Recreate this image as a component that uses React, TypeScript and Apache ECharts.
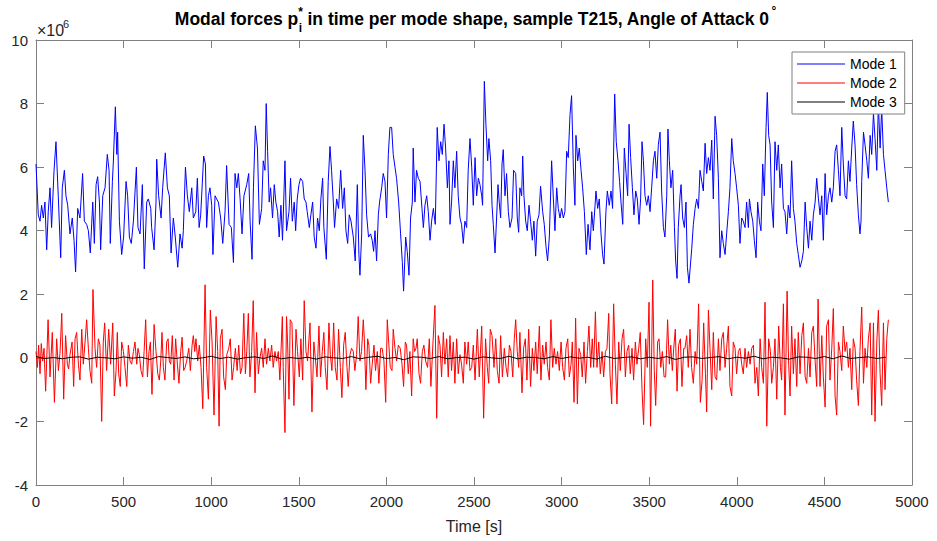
import React, { useEffect, useRef } from "react";
import * as echarts from "echarts";

const xTickMin = 0;
const xTickMax = 5000;
const xTickStep = 500;
const yTickMin = -4;
const yTickMax = 10;
const yTickStep = 2;
const legendNames = ["Mode 1", "Mode 2", "Mode 3"];

// Mode 1 [time s, force x1e6]
const mode1: [number, number][] = [
  [0,6.1],[13,4.5],[23,4.3],[32,4.8],[42,4.4],[51,4.9],[61,3.4],[70,4.6],[80,5.35],[89,4.1],[103,5.9],[114,6.8],[127,5.1],[137,3.7],[141,3.15],[150,5.35],[162,5.9],[171,5.1],[181,4.8],[194,3.9],[207,4.4],[217,3.7],[226,2.7],[238,4.7],[251,4.4],[266,5.8],[276,4.3],[289,4.2],[299,4.0],[310,3.3],[324,4.9],[333,3.6],[343,5.45],[352,5.7],[362,4.9],[369,3.4],[381,5.1],[394,5.35],[407,6.4],[417,5.9],[424,3.6],[436,5.55],[441,6.1],[453,7.9],[461,6.4],[466,7.1],[476,4.3],[489,3.25],[500,3.8],[514,5.55],[523,5.1],[533,3.8],[544,3.6],[556,4.3],[573,6.0],[582,4.1],[594,3.9],[607,5.45],[618,2.8],[632,4.9],[641,5.0],[655,4.7],[660,4.1],[674,3.4],[685,4.9],[689,6.25],[700,5.1],[714,4.4],[723,5.35],[738,6.45],[750,5.35],[761,5.1],[771,3.3],[784,4.4],[795,3.8],[809,2.85],[822,3.9],[834,3.45],[841,4.0],[853,6.0],[864,5.1],[875,4.6],[889,5.35],[898,4.4],[912,4.6],[921,5.65],[931,4.1],[940,4.5],[957,6.35],[967,6.1],[974,4.1],[984,5.1],[993,5.35],[1003,4.8],[1010,3.25],[1022,5.1],[1031,5.0],[1041,4.9],[1054,4.4],[1066,3.6],[1079,4.6],[1088,6.05],[1102,4.2],[1115,4.1],[1127,3.0],[1136,5.8],[1146,5.35],[1155,5.8],[1165,5.0],[1176,3.9],[1187,5.1],[1203,5.45],[1214,5.8],[1222,4.3],[1233,3.1],[1241,5.35],[1252,7.3],[1264,6.6],[1275,4.2],
  [1288,4.7],[1297,6.2],[1307,5.9],[1314,8.0],[1322,6.5],[1331,4.9],[1339,5.35],[1350,4.4],[1360,5.45],[1369,4.9],[1379,4.6],[1388,3.8],[1398,4.8],[1407,3.7],[1421,6.2],[1430,4.0],[1444,4.6],[1453,5.65],[1463,4.3],[1474,4.9],[1482,4.0],[1491,5.0],[1501,5.45],[1510,5.65],[1522,5.55],[1531,5.0],[1541,4.9],[1548,4.6],[1560,4.1],[1569,4.5],[1579,4.9],[1588,3.8],[1598,3.45],[1607,4.4],[1617,4.0],[1626,5.0],[1636,5.65],[1643,4.1],[1657,3.1],[1668,5.55],[1678,6.65],[1687,5.9],[1697,4.9],[1704,4.1],[1716,5.0],[1727,4.7],[1739,5.9],[1750,4.7],[1760,5.35],[1769,4.0],[1779,3.6],[1788,4.5],[1798,4.3],[1811,3.8],[1822,3.05],[1834,5.45],[1843,3.25],[1849,2.6],[1859,3.9],[1868,7.0],[1878,5.9],[1887,4.5],[1898,3.8],[1910,3.9],[1919,3.7],[1927,3.35],[1935,4.0],[1944,3.05],[1954,4.5],[1961,4.9],[1973,5.35],[1982,5.8],[1992,5.55],[2001,4.4],[2011,6.4],[2020,7.25],[2030,7.25],[2039,6.4],[2049,6.0],[2058,5.65],[2070,4.9],[2081,3.9],[2091,3.0],[2098,2.1],[2110,3.8],[2119,3.35],[2129,2.6],[2138,4.4],[2148,4.9],[2153,6.6],[2163,4.9],[2172,5.9],[2182,5.65],[2192,5.55],[2203,4.7],[2211,4.1],[2220,4.8],[2230,5.1],[2239,4.6],[2249,3.7],[2258,4.3],[2268,4.7],[2279,4.2],[2290,7.25],[2300,6.2],[2310,6.8],[2319,6.4],[2329,7.35],[2338,6.6],[2348,5.35],[2357,6.2],[2363,4.2],[2372,4.9],[2382,6.2],[2391,5.35],[2401,6.5],[2410,5.1],[2420,4.4],[2429,4.2],[2439,3.6],[2448,4.3],[2458,4.1],[2467,5.9],[2477,6.9],
  [2487,6.0],[2496,4.8],[2506,6.3],[2515,5.1],[2525,5.65],[2534,5.45],[2544,5.1],[2549,4.8],[2559,8.7],[2568,7.35],[2578,6.2],[2585,6.9],[2595,6.2],[2603,4.8],[2610,4.2],[2620,3.3],[2629,4.4],[2637,5.45],[2644,4.9],[2652,4.4],[2660,6.1],[2667,6.55],[2677,5.1],[2686,5.8],[2696,4.6],[2705,4.1],[2717,4.4],[2726,5.9],[2738,5.8],[2747,4.4],[2755,3.95],[2762,5.35],[2772,5.1],[2778,6.35],[2785,5.1],[2795,4.3],[2804,4.0],[2814,4.8],[2823,4.3],[2833,3.7],[2842,4.3],[2852,3.2],[2861,4.3],[2871,4.5],[2880,5.4],[2892,4.6],[2901,4.2],[2911,3.5],[2920,3.05],[2930,3.8],[2943,6.2],[2953,5.0],[2962,4.0],[2972,5.35],[2981,4.7],[2991,4.4],[3000,4.7],[3010,4.4],[3019,4.6],[3029,6.5],[3038,6.3],[3048,7.65],[3057,8.25],[3067,6.0],[3076,4.8],[3082,7.0],[3092,6.2],[3101,6.6],[3111,5.9],[3120,5.35],[3130,4.6],[3141,3.25],[3151,4.2],[3162,3.4],[3172,4.6],[3181,4.0],[3191,4.8],[3196,5.25],[3206,4.7],[3215,5.0],[3225,3.9],[3234,3.25],[3242,2.95],[3253,4.6],[3261,5.25],[3272,4.8],[3282,5.25],[3291,4.7],[3303,8.3],[3312,6.8],[3322,6.2],[3331,5.55],[3339,4.9],[3349,4.2],[3358,6.6],[3368,5.8],[3377,5.1],[3385,7.35],[3394,6.3],[3404,5.35],[3413,4.5],[3423,5.25],[3432,5.0],[3442,4.2],[3451,5.0],[3459,6.8],[3467,6.2],[3476,5.1],[3486,4.8],[3495,5.1],[3505,4.6],[3514,5.35],[3524,6.2],[3533,6.5],[3543,5.65],[3552,6.7],[3562,7.1],[3571,5.25],[3581,4.1],[3590,3.8],[3600,5.1],[3607,7.2],[3615,6.2],[3624,5.35],[3634,5.9],[3644,4.1],[3651,3.05],[3659,2.5],[3666,4.1],[3676,5.1],[3682,5.45],[3691,4.4],[3701,4.1],[3710,4.9],[3718,2.85],[3727,2.35],
  [3743,3.45],[3752,4.2],[3762,4.7],[3771,5.0],[3781,4.7],[3790,5.9],[3800,5.55],[3809,5.25],[3819,6.75],[3828,5.8],[3838,6.3],[3847,5.9],[3857,6.85],[3866,5.0],[3876,7.6],[3885,7.0],[3895,5.65],[3904,3.15],[3914,4.0],[3923,3.6],[3933,3.25],[3942,3.9],[3952,4.6],[3961,5.35],[3971,6.9],[3980,6.2],[3990,5.8],[3999,5.35],[4009,4.8],[4018,3.6],[4028,4.4],[4037,4.3],[4047,4.1],[4056,4.9],[4066,4.1],[4072,5.0],[4081,4.6],[4091,4.3],[4100,3.7],[4110,3.15],[4119,4.9],[4129,4.3],[4138,4.0],[4148,6.1],[4157,5.1],[4167,7.25],[4174,8.35],[4182,7.0],[4190,6.7],[4199,4.9],[4209,4.1],[4218,6.8],[4228,5.9],[4237,6.7],[4247,5.35],[4256,6.1],[4266,4.7],[4275,4.6],[4285,3.9],[4294,4.8],[4304,4.4],[4313,6.2],[4323,4.7],[4332,4.3],[4342,3.6],[4351,3.25],[4361,2.85],[4371,3.05],[4380,3.35],[4390,4.9],[4399,4.1],[4409,3.45],[4418,4.3],[4428,3.7],[4437,4.5],[4447,4.9],[4456,5.65],[4466,5.0],[4475,4.5],[4485,5.1],[4494,3.7],[4504,5.8],[4513,4.5],[4523,5.1],[4532,5.35],[4542,4.9],[4551,5.35],[4561,6.5],[4570,6.7],[4580,5.9],[4589,5.1],[4599,7.25],[4608,6.1],[4618,5.1],[4627,5.0],[4637,6.2],[4646,5.55],[4656,6.6],[4665,7.45],[4675,6.7],[4684,5.45],[4694,4.5],[4703,3.9],[4709,4.3],[4713,5.55],[4723,7.1],[4732,6.7],[4742,6.2],[4751,5.65],[4761,7.0],[4770,6.4],[4780,7.7],[4789,6.9],[4799,5.9],[4808,8.0],[4818,6.6],[4827,7.85],[4837,6.4],[4846,5.9],[4856,5.35],[4865,4.9]
];

// Mode 2 [time s, force x1e6]
const mode2: [number, number][] = [
  [0,0.2],[8,-0.3],[15,0.4],[23,-0.5],[30,0.45],[38,-0.1],[46,0.3],[55,-1.05],[69,1.2],[80,-0.6],[93,0.8],[105,-1.4],[118,0.6],[128,-0.4],[137,0.15],[147,1.4],[158,-1.3],[169,0.7],[179,-0.2],[186,-0.35],[194,0.1],[206,0.5],[215,-0.9],[223,0.6],[232,0.8],[242,-0.2],[251,-0.7],[261,0.9],[270,-0.2],[280,0.5],[289,1.2],[299,0.3],[308,-0.4],[318,-0.8],[325,2.15],[337,0.3],[346,-0.3],[356,0.6],[365,0.4],[375,-2.0],[384,0.5],[392,1.1],[403,-0.4],[415,0.9],[426,-0.2],[438,1.1],[447,-1.2],[457,-0.4],[464,0.8],[472,-0.5],[481,-0.9],[489,0.5],[499,0.2],[508,-0.3],[518,-0.9],[527,0.4],[537,-0.1],[546,-0.2],[556,0.2],[565,0.5],[575,-0.2],[582,0.3],[590,0.1],[599,-0.4],[609,-0.6],[617,0.2],[626,1.2],[636,-0.6],[645,0.2],[653,0.5],[662,-1.15],[674,1.05],[685,0.2],[695,-0.5],[704,-0.7],[712,-0.1],[719,0.8],[727,-0.3],[736,-0.7],[746,0.5],[754,0.6],[761,-0.1],[769,-0.2],[778,0.7],[788,-0.7],[797,0.6],[807,-0.2],[816,-0.8],[826,0.2],[834,0.65],[843,-0.4],[851,-0.3],[860,-0.1],[872,0.3],[881,-0.4],[891,0.4],[898,0.7],[906,0.2],[913,0.6],[923,-0.1],[932,0.4],[942,-0.3],[952,-1.6],[965,2.3],[974,-0.3],[984,-1.3],[995,1.5],[1005,0.5],[1016,-1.8],[1028,1.3],[1037,0.2],[1045,-2.15],[1052,0.6],[1062,0.9],[1071,-0.6],[1081,-1.0],[1089,0.1],[1100,0.3],[1109,0.6],[1119,-0.7],[1128,-0.3],[1138,0.3],[1148,-0.4],[1157,0.4],[1167,-0.5],[1176,-0.3],[1186,1.4],[1195,-0.5],[1203,0.2],[1212,1.4],
  [1221,-0.6],[1231,0.2],[1240,1.8],[1250,-1.1],[1259,0.8],[1269,-0.5],[1278,0.0],[1288,0.3],[1297,-0.3],[1307,0.6],[1316,-0.2],[1326,0.3],[1335,-0.1],[1345,0.4],[1354,-0.3],[1364,0.2],[1373,-0.1],[1383,0.2],[1392,-0.7],[1406,1.3],[1411,-0.3],[1421,-2.35],[1430,1.3],[1436,0.5],[1444,-1.3],[1451,1.2],[1461,1.1],[1472,-1.5],[1484,0.9],[1493,0.2],[1503,-0.6],[1512,0.6],[1522,-0.7],[1531,1.8],[1541,0.2],[1550,-0.1],[1564,1.1],[1575,-1.7],[1586,0.5],[1596,-0.1],[1604,-0.6],[1615,1.0],[1624,-0.6],[1634,0.2],[1643,0.8],[1651,-0.3],[1661,-1.0],[1672,1.1],[1680,0.1],[1689,-0.4],[1699,1.1],[1708,-0.3],[1718,-0.7],[1727,0.9],[1737,-0.3],[1746,-1.25],[1756,0.4],[1765,0.8],[1775,-0.3],[1782,-0.9],[1792,0.1],[1801,0.3],[1811,0.2],[1820,-0.4],[1830,0.1],[1839,1.3],[1849,-0.1],[1858,0.2],[1868,1.2],[1874,0.6],[1883,-1.0],[1893,0.6],[1900,0.4],[1910,-0.8],[1919,-0.2],[1929,0.4],[1938,-0.4],[1948,0.2],[1957,-0.8],[1967,0.3],[1976,0.3],[1986,-0.1],[1996,-1.4],[2005,1.2],[2013,0.5],[2022,-0.3],[2032,-0.4],[2039,0.9],[2049,0.3],[2058,-0.1],[2068,0.4],[2079,0.3],[2089,-0.2],[2098,-0.9],[2108,0.5],[2115,0.4],[2125,-0.5],[2134,0.2],[2144,-1.2],[2153,0.6],[2161,0.2],[2169,0.3],[2176,0.6],[2186,-0.5],[2195,-0.8],[2205,0.2],[2214,0.4],[2224,-0.1],[2235,-0.3],[2245,0.6],[2254,-0.9],[2266,0.5],[2277,1.65],[2287,-1.9],[2296,0.7],[2306,0.4],[2315,-0.6],[2325,0.8],[2334,-0.2],[2344,0.6],[2353,-0.6],[2363,0.7],[2372,-0.4],[2382,0.5],[2391,-0.8],[2401,0.6],[2410,-0.5],[2420,0.1],[2429,-0.2],[2439,-0.8],[2448,0.5],[2458,-0.2],[2467,0.5],
  [2477,-0.4],[2487,-0.3],[2496,0.4],[2506,-0.7],[2519,0.9],[2530,-0.6],[2544,1.0],[2555,-1.9],[2566,0.6],[2576,-0.3],[2584,-0.8],[2593,0.9],[2603,0.7],[2614,-0.3],[2624,0.6],[2633,-0.4],[2643,-0.8],[2652,0.7],[2662,-0.6],[2673,0.3],[2683,-0.3],[2692,-0.6],[2702,0.4],[2711,0.2],[2721,-0.6],[2730,0.6],[2738,1.2],[2747,0.2],[2755,-0.3],[2762,0.8],[2774,-1.1],[2783,0.3],[2793,0.6],[2802,-0.7],[2812,0.9],[2823,-0.9],[2833,0.3],[2842,-0.4],[2852,0.5],[2861,-0.5],[2873,1.0],[2882,-0.7],[2892,0.4],[2901,-0.2],[2911,0.5],[2920,-0.3],[2930,-0.7],[2939,1.2],[2949,-0.3],[2958,0.3],[2968,-0.2],[2977,0.2],[2987,-0.4],[2997,0.5],[3006,-0.3],[3016,-0.7],[3025,0.3],[3035,0.6],[3044,-0.6],[3054,-0.2],[3061,0.5],[3071,-1.4],[3080,1.25],[3090,-1.45],[3099,0.3],[3109,0.1],[3118,-0.6],[3128,0.5],[3137,-0.8],[3147,0.2],[3156,1.0],[3166,-0.3],[3175,0.6],[3183,-0.3],[3193,1.45],[3202,-0.3],[3212,0.5],[3221,-0.5],[3231,0.2],[3240,-0.6],[3250,0.2],[3259,0.3],[3269,1.4],[3276,-0.5],[3286,-1.45],[3297,1.7],[3307,-0.2],[3316,-1.45],[3326,0.5],[3335,-0.4],[3345,0.6],[3354,0.9],[3364,-0.6],[3373,0.2],[3383,0.4],[3392,-0.5],[3402,0.3],[3411,-0.7],[3421,0.5],[3430,-0.2],[3440,0.3],[3449,0.8],[3459,-1.0],[3468,-2.1],[3480,0.6],[3489,-0.3],[3499,1.75],[3508,-2.15],[3520,2.45],[3529,-0.4],[3537,-1.5],[3548,0.5],[3556,0.6],[3566,-0.3],[3575,0.2],[3585,-0.6],[3594,-0.6],[3605,1.2],[3615,-0.2],[3623,0.4],[3632,-0.4],[3640,0.3],[3649,0.9],[3659,-1.05],[3668,0.4],[3678,0.6],[3687,-0.9],[3697,0.3],[3704,0.3],[3714,0.7],[3723,-0.3],[3733,0.9],[3742,-0.3],[3752,-0.8],[3762,0.2],[3771,-0.2],
  [3782,1.7],[3792,-1.4],[3802,-0.7],[3811,1.1],[3821,-0.5],[3828,-1.7],[3838,1.5],[3847,0.3],[3857,-1.0],[3866,0.8],[3876,-0.6],[3885,-0.7],[3895,0.6],[3904,-0.4],[3914,0.6],[3923,0.8],[3933,-0.3],[3942,0.3],[3952,1.0],[3961,-0.9],[3971,-1.2],[3980,0.5],[3990,0.3],[3999,-0.5],[4009,0.2],[4018,0.3],[4028,-0.2],[4037,-0.5],[4047,0.3],[4056,-0.3],[4066,0.2],[4076,-0.2],[4085,0.3],[4095,0.4],[4104,-0.8],[4114,-0.3],[4123,-1.2],[4133,0.6],[4142,-0.3],[4152,-0.8],[4161,1.75],[4171,-2.15],[4182,0.6],[4192,0.2],[4199,-0.8],[4209,-0.3],[4218,0.6],[4228,-1.3],[4239,1.0],[4249,-0.3],[4256,-0.7],[4266,1.7],[4275,-1.8],[4287,2.1],[4296,-0.2],[4304,-1.2],[4313,1.0],[4323,-0.5],[4332,0.6],[4342,-0.9],[4351,0.8],[4361,-0.5],[4371,0.7],[4380,1.1],[4390,-0.6],[4399,-0.8],[4409,0.3],[4418,-0.6],[4428,0.8],[4437,1.0],[4447,-0.1],[4456,-0.9],[4464,1.85],[4475,-0.9],[4485,0.7],[4494,-0.6],[4504,-1.55],[4513,1.0],[4523,1.2],[4532,-0.7],[4542,0.3],[4551,1.55],[4561,-1.2],[4570,-1.8],[4580,0.5],[4589,0.2],[4599,-0.4],[4608,1.0],[4618,0.2],[4627,0.5],[4637,-0.3],[4646,0.3],[4656,-1.0],[4665,0.6],[4675,0.3],[4684,-0.7],[4694,-1.5],[4703,0.2],[4713,1.6],[4723,-0.8],[4732,0.3],[4742,-0.3],[4751,0.6],[4761,1.1],[4770,-1.8],[4780,1.1],[4789,-2.0],[4799,0.5],[4808,1.5],[4818,-0.5],[4827,-1.5],[4837,1.1],[4846,-1.0],[4856,0.6],[4865,1.2]
];

// Mode 3, one value every mode3Step seconds (x1e6)
const mode3Step = 50;
const mode3: number[] = [
  0.04,-0.02,0.01,-0.03,0.02,0.03,-0.04,0.02,0.0,-0.03,
  0.03,-0.01,0.02,-0.05,0.04,0.01,-0.02,0.03,-0.03,0.0,
  0.05,-0.02,0.02,-0.04,0.01,0.03,-0.02,0.06,-0.03,0.01,
  -0.02,0.02,-0.04,0.03,0.0,-0.02,0.04,-0.03,0.02,0.05,
  -0.02,0.01,-0.06,0.03,0.02,-0.02,0.04,-0.03,0.01,0.02,
  -0.04,0.03,0.0,-0.02,0.05,-0.03,0.02,0.01,-0.03,0.04,
  -0.02,0.03,-0.01,0.02,-0.04,0.05,-0.02,0.01,0.03,-0.03,
  0.02,-0.02,0.04,-0.05,0.02,0.03,-0.02,0.01,0.04,-0.03,
  0.02,-0.01,0.05,-0.03,0.02,0.0,-0.04,0.03,0.02,-0.02,
  0.04,-0.03,0.06,-0.02,0.01,0.03,-0.02,0.02
];

const FONT = '"Liberation Sans", Arial, Helvetica, sans-serif';
const TEXT_COLOR = "#262626";
const AXIS_COLOR = "#808080";

function measure(text: string, font: string): number {
  const c = document.createElement("canvas").getContext("2d");
  if (!c) return text.length * 8;
  c.font = font;
  return c.measureText(text).width;
}

export default function App() {
  const ref = useRef<HTMLDivElement>(null);

  useEffect(() => {
    document.body.style.margin = "0";
    if (!ref.current) return;
    const chart = echarts.init(ref.current, undefined, { renderer: "svg" });

    const titleSize = 17.5;
    const smallSize = 12;
    const t1 = "Modal forces p";
    const t2 = " in time per mode shape, sample T215, Angle of Attack 0";
    const bold = (s: number) => `bold ${s}px ${FONT}`;
    const w1 = measure(t1, bold(titleSize));
    const wi = measure("i", bold(smallSize)) + 1;
    const w2 = measure(t2, bold(titleSize));
    const wd = measure("°", bold(smallSize));
    const total = w1 + wi + w2 + wd;
    const cx = 475;
    const x0 = cx - total / 2;
    const ty = 19;

    const mode3Data = mode3.map((v, i) => [i * mode3Step, v]);

    const axisCommon = {
      axisLine: { show: true, onZero: false, lineStyle: { color: AXIS_COLOR, width: 1 } },
      axisTick: { show: true, inside: true, length: 8, lineStyle: { color: AXIS_COLOR, width: 1 } },
      splitLine: { show: false },
    };

    chart.setOption({
      animation: false,
      backgroundColor: "#ffffff",
      textStyle: { fontFamily: FONT },
      grid: { left: 36, right: 25, top: 40, bottom: 56 },
      legend: {
        data: legendNames,
        orient: "vertical",
        left: 792,
        top: 52,
        icon: "rect",
        itemWidth: 48,
        itemHeight: 1.2,
        itemGap: 3,
        padding: [4, 8, 4, 5],
        borderColor: AXIS_COLOR,
        borderWidth: 1,
        backgroundColor: "#ffffff",
        textStyle: { fontSize: 14, color: "#000000", fontFamily: FONT, lineHeight: 16 },
      },
      xAxis: [
        {
          type: "value",
          min: xTickMin,
          max: xTickMax,
          interval: xTickStep,
          position: "bottom",
          ...axisCommon,
          axisLabel: { color: TEXT_COLOR, fontSize: 15, margin: 9, fontFamily: FONT, formatter: (v: number) => String(v) },
          name: "Time [s]",
          nameLocation: "middle",
          nameGap: 33,
          nameTextStyle: { color: TEXT_COLOR, fontSize: 16, fontFamily: FONT },
        },
        {
          type: "value",
          min: xTickMin,
          max: xTickMax,
          interval: xTickStep,
          position: "top",
          ...axisCommon,
          axisLabel: { show: false },
        },
      ],
      yAxis: [
        {
          type: "value",
          min: yTickMin,
          max: yTickMax,
          interval: yTickStep,
          position: "left",
          ...axisCommon,
          axisLabel: { color: TEXT_COLOR, fontSize: 15, margin: 8, fontFamily: FONT, formatter: (v: number) => String(v) },
        },
        {
          type: "value",
          min: yTickMin,
          max: yTickMax,
          interval: yTickStep,
          position: "right",
          ...axisCommon,
          axisLabel: { show: false },
        },
      ],
      series: [
        {
          name: legendNames[0],
          type: "line",
          data: mode1,
          showSymbol: false,
          symbol: "none",
          lineStyle: { color: "#0000ff", width: 1 },
          itemStyle: { color: "#0000ff" },
        },
        {
          name: legendNames[1],
          type: "line",
          data: mode2,
          showSymbol: false,
          symbol: "none",
          lineStyle: { color: "#ff0000", width: 1 },
          itemStyle: { color: "#ff0000" },
        },
        {
          name: legendNames[2],
          type: "line",
          data: mode3Data,
          showSymbol: false,
          symbol: "none",
          lineStyle: { color: "#000000", width: 1 },
          itemStyle: { color: "#000000" },
        },
      ],
      graphic: [
        {
          type: "text",
          left: 37,
          top: 22,
          style: { text: "×10", fontSize: 16, fill: TEXT_COLOR, fontFamily: FONT },
        },
        {
          type: "text",
          left: 63,
          top: 18,
          style: { text: "6", fontSize: 11, fill: TEXT_COLOR, fontFamily: FONT },
        },
        {
          type: "text",
          x: x0,
          y: ty,
          style: { text: t1, font: bold(titleSize), fill: "#000000", textVerticalAlign: "middle", textAlign: "left" },
        },
        {
          type: "text",
          x: x0 + w1 + 0.5,
          y: ty + 9,
          style: { text: "i", font: bold(smallSize), fill: "#000000", textVerticalAlign: "middle", textAlign: "left" },
        },
        {
          type: "text",
          x: x0 + w1,
          y: ty - 7,
          style: { text: "*", font: bold(smallSize), fill: "#000000", textVerticalAlign: "middle", textAlign: "left" },
        },
        {
          type: "text",
          x: x0 + w1 + wi,
          y: ty,
          style: { text: t2, font: bold(titleSize), fill: "#000000", textVerticalAlign: "middle", textAlign: "left" },
        },
        {
          type: "text",
          x: x0 + w1 + wi + w2 + 1,
          y: ty - 8,
          style: { text: "°", font: bold(smallSize), fill: "#000000", textVerticalAlign: "middle", textAlign: "left" },
        },
      ],
    });

    return () => chart.dispose();
  }, []);

  return <div ref={ref} style={{ width: 937, height: 541 }} />;
}
